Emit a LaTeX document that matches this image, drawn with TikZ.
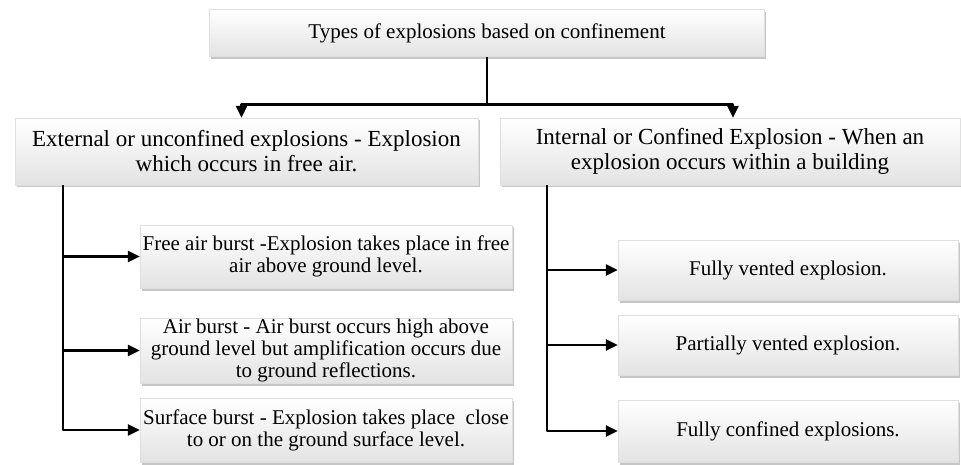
\documentclass[tikz,border=0pt]{standalone}
\usepackage{fontspec}
\setmainfont{Liberation Serif}
\usetikzlibrary{arrows.meta,shadows}

\begin{document}
\begin{tikzpicture}[x=1pt, y=-1pt, line join=round, font=\fontsize{21}{22}\selectfont,
    caja/.style={draw=gray!25, top color=white, bottom color=gray!22, align=center, inner sep=0pt,
      drop shadow={opacity=0.45, shadow xshift=1.5pt, shadow yshift=-2.5pt}},
    grande/.style={font=\fontsize{23}{25}\selectfont},
    linea/.style={line width=2.5pt},
    flecha/.style={linea, -{Triangle[length=12pt,width=11pt]}}]
    \useasboundingbox (0,0) rectangle (961,465);
    % nivel 1
    \node[caja, minimum width=555, minimum height=47] (T) at (487,33) {Types of explosions based on confinement};
    % nivel 2
    \node[caja, grande, minimum width=463, minimum height=67] (E) at (246.5,151.5)
        {External or unconfined explosions - Explosion\\ which occurs in free air.};
    \node[caja, grande, minimum width=460, minimum height=67] (I) at (730,151.5)
        {Internal or Confined Explosion - When an\\ explosion occurs within a building};
    % nivel 3, izquierda
    \node[caja, minimum width=372, minimum height=63] (E1) at (326,256.5)
        {Free air burst -Explosion takes place in free\\ air above ground level.};
    \node[caja, minimum width=372, minimum height=65] (E2) at (326,350.5)
        {Air burst - Air burst occurs high above\\ ground level but amplification occurs due\\ to ground reflections.};
    \node[caja, minimum width=372, minimum height=64] (E3) at (326,430)
        {Surface burst - Explosion takes place\ \ close\\ to or on the ground surface level.};
    % nivel 3, derecha
    \node[caja, minimum width=340, minimum height=60] (I1) at (788,270) {Fully vented explosion.};
    \node[caja, minimum width=340, minimum height=60] (I2) at (788,345) {Partially vented explosion.};
    \node[caja, minimum width=340, minimum height=62] (I3) at (788,431) {Fully confined explosions.};
    % conectores
    \draw[linea] (T.south) -- ++(0,48) coordinate (j);
    \draw[flecha] (j) -| ([xshift=-5pt]E.north);
    \draw[flecha] (j) -| ([xshift=3pt]I.north);
    \foreach \n in {E1,E2,E3}
        \draw[flecha] ([xshift=48pt]E.south west) |- (\n.west);
    \foreach \n in {I1,I2,I3}
        \draw[flecha] ([xshift=47pt]I.south west) |- (\n.west);
\end{tikzpicture}
\end{document}
